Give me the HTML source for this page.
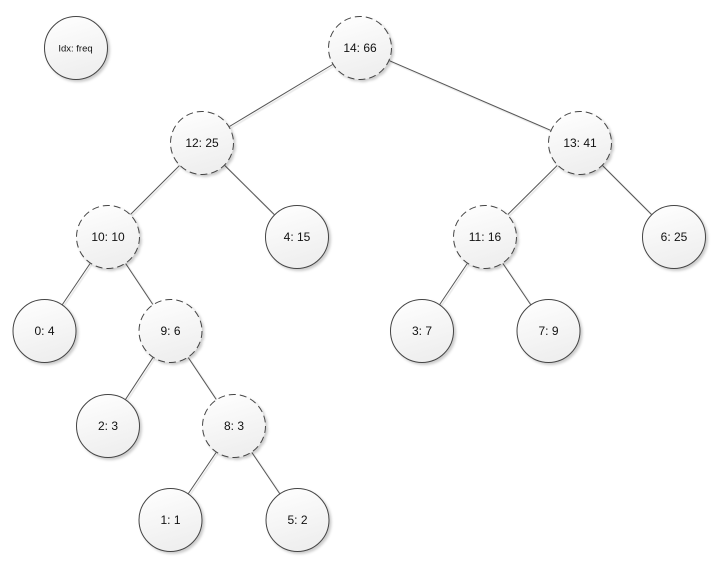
<!DOCTYPE html>
<html><head><meta charset="utf-8"><style>
html,body{margin:0;padding:0;background:#fff;}
svg{display:block;}
text{font-family:"Liberation Sans",sans-serif;font-size:12px;fill:#111;text-anchor:middle;}
</style></head><body>
<svg width="720" height="563" viewBox="0 0 720 563" xmlns="http://www.w3.org/2000/svg">
<defs>
<linearGradient id="g" x1="0" y1="0" x2="0.3" y2="1">
<stop offset="0" stop-color="#ffffff"/>
<stop offset="1" stop-color="#efefef"/>
</linearGradient>
<filter id="sh" x="-20%" y="-20%" width="150%" height="150%">
<feDropShadow dx="2" dy="2" stdDeviation="1.2" flood-color="#000" flood-opacity="0.2"/>
</filter>
<filter id="lsh" x="-10%" y="-10%" width="130%" height="130%">
<feDropShadow dx="1.5" dy="1.5" stdDeviation="0.6" flood-color="#000" flood-opacity="0.15"/>
</filter>
</defs>
<g stroke="#555" stroke-width="1" filter="url(#lsh)">
<line x1="332.6" y1="64.5" x2="229.4" y2="126.5"/>
<line x1="389.4" y1="60.7" x2="550.6" y2="130.3"/>
<line x1="179.4" y1="165.6" x2="130.6" y2="214.4"/>
<line x1="224.8" y1="165.5" x2="274.2" y2="214.5"/>
<line x1="557.2" y1="165.5" x2="507.8" y2="214.5"/>
<line x1="602.6" y1="165.6" x2="651.4" y2="214.4"/>
<line x1="90.1" y1="263.5" x2="62.4" y2="304.5"/>
<line x1="125.7" y1="263.6" x2="152.8" y2="304.4"/>
<line x1="467.2" y1="263.6" x2="439.8" y2="304.4"/>
<line x1="502.9" y1="263.5" x2="530.6" y2="304.5"/>
<line x1="152.9" y1="357.7" x2="125.6" y2="399.3"/>
<line x1="188.3" y1="357.6" x2="216.2" y2="399.4"/>
<line x1="216.1" y1="452.5" x2="188.4" y2="493.5"/>
<line x1="251.9" y1="452.5" x2="279.6" y2="493.5"/>
</g>
<g fill="url(#g)" stroke="#444" stroke-width="1" filter="url(#sh)">
<circle cx="76" cy="48" r="31.5"/>
<circle cx="297" cy="237" r="31.5"/>
<circle cx="674" cy="237" r="31.5"/>
<circle cx="44.5" cy="331" r="31.5"/>
<circle cx="422" cy="331" r="31.5"/>
<circle cx="548.5" cy="331" r="31.5"/>
<circle cx="108" cy="426" r="31.5"/>
<circle cx="170.5" cy="520" r="31.5"/>
<circle cx="297.5" cy="520" r="31.5"/>
</g>
<g fill="url(#g)" stroke="#444" stroke-width="1" stroke-dasharray="7 4" filter="url(#sh)">
<circle cx="360" cy="48" r="31.5"/>
<circle cx="202" cy="143" r="31.5"/>
<circle cx="580" cy="143" r="31.5"/>
<circle cx="108" cy="237" r="31.5"/>
<circle cx="485" cy="237" r="31.5"/>
<circle cx="170.5" cy="331" r="31.5"/>
<circle cx="234" cy="426" r="31.5"/>
</g>
<text x="75.5" y="51.5" style="font-size:9.5px">Idx: freq</text>
<text x="360" y="52">14: 66</text>
<text x="202" y="147">12: 25</text>
<text x="580" y="147">13: 41</text>
<text x="108" y="241">10: 10</text>
<text x="297" y="241">4: 15</text>
<text x="485" y="241">11: 16</text>
<text x="674" y="241">6: 25</text>
<text x="44.5" y="335">0: 4</text>
<text x="170.5" y="335">9: 6</text>
<text x="422" y="335">3: 7</text>
<text x="548.5" y="335">7: 9</text>
<text x="108" y="430">2: 3</text>
<text x="234" y="430">8: 3</text>
<text x="170.5" y="524">1: 1</text>
<text x="297.5" y="524">5: 2</text>
</svg>
</body></html>
